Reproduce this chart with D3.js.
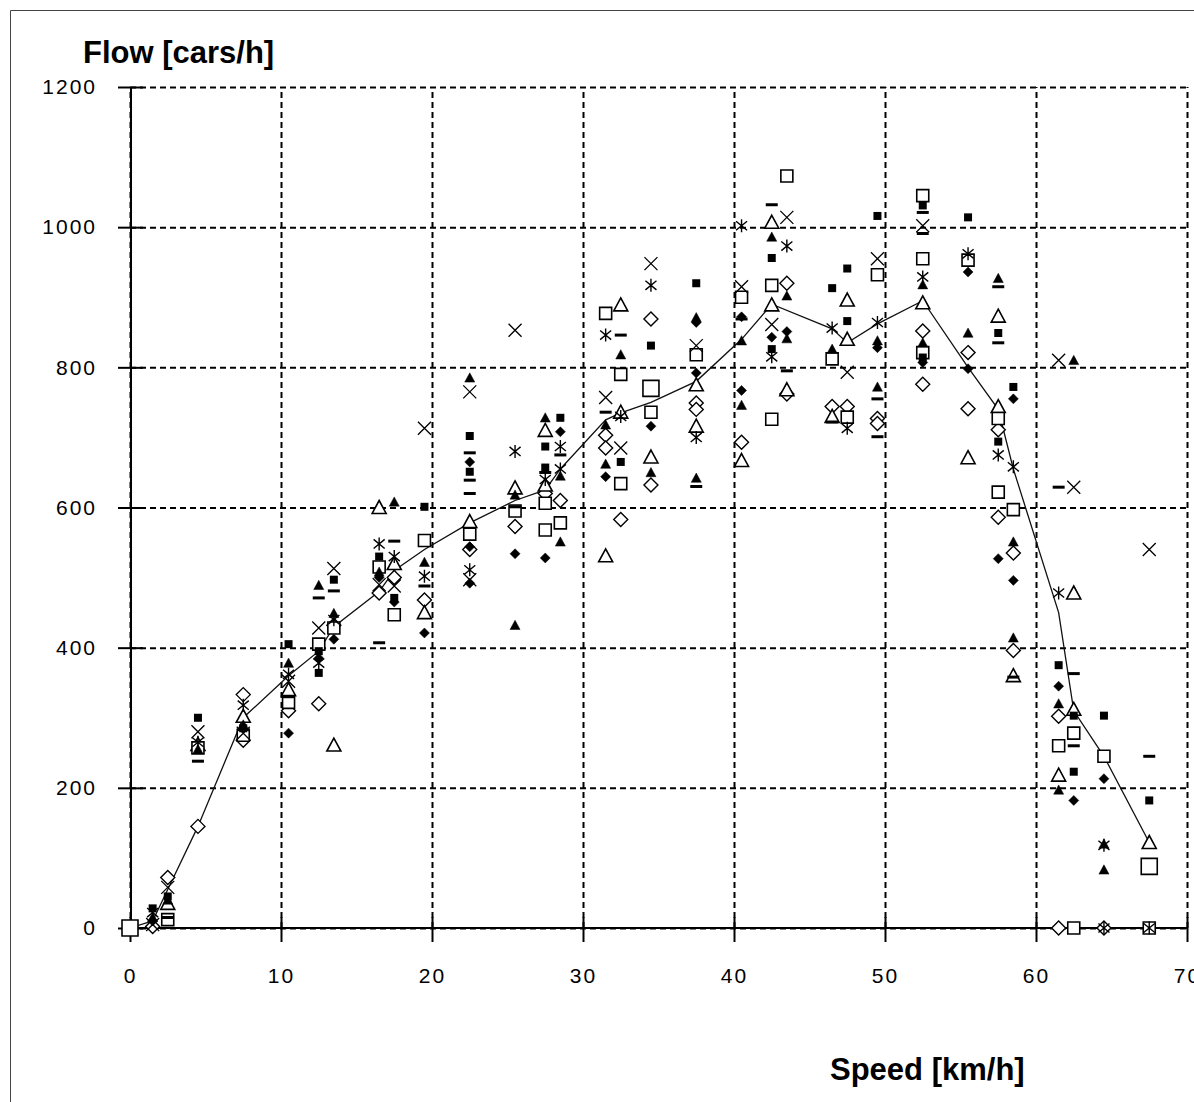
<!DOCTYPE html>
<html>
<head>
<meta charset="utf-8">
<script src="https://cdn.jsdelivr.net/npm/d3@7"></script>
<style>
  body { margin: 0; background: #fff; }
  svg { display: block; }
  .tick text { font-family: "Liberation Sans", Arial, sans-serif; font-size: 21px; letter-spacing: 2px; fill: #000; }
  .title { font-family: "Liberation Sans", Arial, sans-serif; font-weight: bold; font-size: 31px; fill: #000; }
</style>
</head>
<body>
<div id="chart"></div>
<script>
// speed [km/h], flow [cars/h], one array per marker type
const sqOpen = [[2.5,12],[4.5,257],[7.5,275],[10.5,322],[12.5,405],[13.5,428],[16.5,515],[17.5,447],[19.5,553],[22.5,562],[25.5,595],[27.5,606],[27.5,568],[28.5,578],[31.5,877],[32.5,790],[32.5,634],[34.5,736],[37.5,818],[40.5,900],[42.5,917],[42.5,726],[43.5,1073],[46.5,812],[47.5,729],[49.5,932],[52.5,1045],[52.5,955],[52.5,821],[55.5,953],[57.5,727],[57.5,622],[58.5,597],[61.5,260],[62.5,278],[62.5,0],[64.5,245],[67.5,0]];
const sqFill = [[1.5,28],[2.5,45],[4.5,300],[7.5,285],[10.5,405],[12.5,395],[12.5,364],[13.5,497],[16.5,530],[17.5,471],[19.5,601],[22.5,702],[22.5,651],[27.5,687],[27.5,657],[28.5,728],[32.5,665],[34.5,831],[37.5,920],[42.5,956],[42.5,826],[46.5,913],[47.5,941],[47.5,866],[49.5,1016],[52.5,1031],[52.5,814],[55.5,1014],[57.5,849],[57.5,694],[58.5,772],[61.5,375],[62.5,303],[62.5,223],[64.5,303],[67.5,182]];
const crossX = [[1.5,5],[2.5,58],[4.5,280],[7.5,278],[10.5,352],[12.5,428],[13.5,513],[16.5,490],[17.5,488],[19.5,713],[22.5,765],[22.5,497],[25.5,853],[31.5,757],[32.5,685],[34.5,948],[37.5,831],[40.5,915],[42.5,861],[43.5,1014],[47.5,793],[49.5,955],[52.5,1002],[61.5,810],[62.5,629],[67.5,540]];
const stars = [[1.5,22],[4.5,265],[7.5,318],[10.5,362],[12.5,378],[13.5,440],[16.5,548],[17.5,530],[19.5,502],[22.5,511],[25.5,680],[27.5,640],[28.5,687],[28.5,655],[31.5,846],[32.5,730],[34.5,917],[37.5,700],[40.5,1002],[42.5,815],[43.5,973],[46.5,856],[47.5,713],[49.5,864],[52.5,929],[55.5,962],[57.5,675],[58.5,658],[61.5,478],[64.5,118],[64.5,0],[67.5,0]];
const triFill = [[1.5,15],[2.5,40],[4.5,255],[7.5,290],[10.5,378],[12.5,489],[13.5,449],[16.5,508],[17.5,608],[19.5,522],[22.5,785],[25.5,618],[25.5,432],[27.5,728],[28.5,645],[28.5,551],[31.5,718],[31.5,662],[32.5,818],[34.5,650],[37.5,871],[37.5,642],[40.5,838],[40.5,746],[42.5,986],[43.5,902],[43.5,841],[46.5,826],[49.5,838],[49.5,772],[52.5,918],[52.5,835],[55.5,849],[57.5,927],[58.5,551],[58.5,414],[61.5,320],[61.5,197],[62.5,810],[64.5,120],[64.5,83]];
const triOpen = [[2.5,35],[4.5,262],[7.5,302],[10.5,340],[13.5,261],[16.5,600],[17.5,520],[19.5,450],[22.5,580],[25.5,628],[27.5,710],[27.5,632],[31.5,531],[32.5,889],[32.5,736],[34.5,672],[37.5,775],[37.5,716],[40.5,667],[42.5,1007],[42.5,889],[43.5,768],[46.5,730],[47.5,896],[47.5,840],[52.5,892],[55.5,671],[57.5,873],[57.5,744],[58.5,360],[61.5,218],[62.5,478],[62.5,312],[67.5,122]];
const diaOpen = [[1.5,2],[2.5,72],[4.5,145],[7.5,333],[7.5,268],[10.5,310],[12.5,320],[13.5,432],[16.5,478],[17.5,500],[19.5,468],[22.5,540],[25.5,573],[27.5,620],[28.5,610],[31.5,703],[31.5,685],[32.5,583],[34.5,869],[34.5,632],[37.5,749],[37.5,740],[40.5,693],[43.5,920],[43.5,762],[46.5,744],[47.5,744],[49.5,727],[49.5,720],[52.5,852],[52.5,776],[55.5,821],[55.5,741],[57.5,711],[57.5,586],[58.5,535],[58.5,396],[61.5,302],[61.5,0],[64.5,0]];
const diaFill = [[1.5,10],[10.5,278],[12.5,385],[13.5,412],[16.5,500],[17.5,465],[19.5,421],[22.5,665],[22.5,544],[22.5,492],[25.5,534],[27.5,528],[28.5,708],[31.5,644],[34.5,716],[37.5,864],[37.5,792],[40.5,872],[40.5,767],[42.5,843],[43.5,851],[49.5,828],[52.5,807],[55.5,936],[55.5,798],[57.5,527],[58.5,755],[58.5,496],[61.5,345],[62.5,182],[64.5,213]];
const dashes = [[2.5,15],[4.5,238],[7.5,283],[10.5,330],[12.5,471],[13.5,481],[16.5,407],[17.5,552],[19.5,488],[22.5,678],[22.5,639],[22.5,620],[25.5,601],[27.5,650],[28.5,675],[31.5,736],[32.5,846],[37.5,630],[40.5,869],[42.5,1032],[43.5,795],[46.5,722],[49.5,755],[49.5,701],[52.5,1021],[52.5,991],[57.5,915],[57.5,835],[58.5,358],[61.5,629],[62.5,363],[62.5,260],[67.5,245]];
const bigSquares = [[0,0],[34.5,770],[67.5,88]];

// mean curve
const meanSpeed = [0,1.5,2.5,4.5,7.5,10.5,12.5,13.5,16.5,17.5,19.5,22.5,25.5,27.5,28.5,31.5,32.5,34.5,37.5,40.5,42.5,46.5,47.5,49.5,52.5,55.5,57.5,58.5,61.5,62.5,64.5,67.5];
const meanFlow  = [0,10,55,145,300,360,395,430,480,510,540,578,610,625,655,725,735,750,780,840,890,855,835,862,895,800,740,655,450,310,245,122];

const xTicks = [0,10,20,30,40,50,60,70];
const yTicks = [0,200,400,600,800,1000,1200];

const svgWidth = 1194;
const svgHeight = 1102;

let svg = d3.select("#chart")
    .append("svg")
    .attr("width", svgWidth)
    .attr("height", svgHeight);

// frame (left and top edges only)
svg.append("path")
    .attr("d", "M10.5,1102V10.5H1194")
    .attr("fill", "none")
    .attr("stroke", "#444")
    .attr("stroke-width", 1);

let x = d3.scaleLinear().domain([0, 70]).range([130, 1187]);
let y = d3.scaleLinear().domain([0, 1200]).range([928, 87]);

// dashed grid
svg.append("g")
    .attr("transform", "translate(130,0)")
    .call(d3.axisLeft(y).tickValues(yTicks).tickSize(-(1187 - 130)).tickFormat(""))
    .call(g => g.select(".domain").remove())
    .selectAll("line")
    .attr("stroke", "#000")
    .attr("stroke-width", 2)
    .attr("stroke-dasharray", "6,4");

svg.append("g")
    .attr("transform", "translate(0,928)")
    .call(d3.axisBottom(x).tickValues(xTicks).tickSize(-(928 - 87)).tickFormat(""))
    .call(g => g.select(".domain").remove())
    .selectAll("line")
    .attr("stroke", "#000")
    .attr("stroke-width", 2)
    .attr("stroke-dasharray", "6,4");

// y axis
let yAxis = svg.append("g")
    .attr("transform", "translate(131,0)")
    .call(d3.axisLeft(y).tickValues(yTicks).tickFormat(d3.format("d")).tickSize(13).tickPadding(21));
yAxis.select(".domain").attr("d", `M0,${y(1200)}V${y(0)}`).attr("stroke-width", 2);
yAxis.selectAll(".tick line").attr("x1", 12).attr("stroke-width", 2);

// x axis
let xAxis = svg.append("g")
    .attr("transform", "translate(0,928)")
    .call(d3.axisBottom(x).tickValues(xTicks).tickFormat(d3.format("d")).tickSize(14).tickPadding(26));
xAxis.select(".domain").attr("d", `M${x(0)},0H${x(70)}`).attr("stroke-width", 2);
xAxis.selectAll(".tick line").attr("y1", -11).attr("stroke-width", 2);

// axis titles
svg.append("text").attr("class", "title").attr("x", 83).attr("y", 63).text("Flow [cars/h]");
svg.append("text").attr("class", "title").attr("x", 830).attr("y", 1080).text("Speed [km/h]");

// mean line
svg.append("path")
    .datum(d3.zip(meanSpeed, meanFlow))
    .attr("fill", "none")
    .attr("stroke", "#111")
    .attr("stroke-width", 1.3)
    .attr("d", d3.line().x(d => x(d[0])).y(d => y(d[1])));

// custom marker shapes, size = half width
const shapeSquare = { draw(c, r) { c.rect(-r, -r, 2 * r, 2 * r); } };
const shapeX = { draw(c, r) { c.moveTo(-r, -r); c.lineTo(r, r); c.moveTo(-r, r); c.lineTo(r, -r); } };
const shapeStar = { draw(c, r) {
    c.moveTo(0, -r); c.lineTo(0, r);
    c.moveTo(-r * 0.85, -r * 0.7); c.lineTo(r * 0.85, r * 0.7);
    c.moveTo(-r * 0.85, r * 0.7); c.lineTo(r * 0.85, -r * 0.7);
} };
const shapeTri = { draw(c, r) { c.moveTo(0, -r); c.lineTo(r, r * 0.85); c.lineTo(-r, r * 0.85); c.closePath(); } };
const shapeDia = { draw(c, r) { c.moveTo(0, -r); c.lineTo(r, 0); c.lineTo(0, r); c.lineTo(-r, 0); c.closePath(); } };
const shapeDash = { draw(c, r) { c.rect(-r, -1.5, 2 * r, 3); } };

function drawMarkers(data, type, size, fill, stroke, width) {
    svg.append("g")
        .selectAll("path")
        .data(data)
        .enter()
        .append("path")
        .attr("transform", d => `translate(${x(d[0])},${y(d[1])})`)
        .attr("d", d3.symbol().type(type).size(size))
        .attr("fill", fill)
        .attr("stroke", stroke)
        .attr("stroke-width", width);
}

drawMarkers(diaOpen, shapeDia, 7, "#fff", "#000", 1.4);
drawMarkers(triOpen, shapeTri, 7, "#fff", "#000", 1.6);
drawMarkers(sqOpen, shapeSquare, 6, "#fff", "#000", 1.6);
drawMarkers(bigSquares, shapeSquare, 8, "#fff", "#000", 1.6);
drawMarkers(crossX, shapeX, 6.5, "none", "#000", 1.3);
drawMarkers(stars, shapeStar, 6.5, "none", "#000", 1.4);
drawMarkers(triFill, shapeTri, 5, "#000", "#000", 0.5);
drawMarkers(sqFill, shapeSquare, 4, "#000", "none", 0);
drawMarkers(diaFill, shapeDia, 5, "#000", "#000", 0.5);
drawMarkers(dashes, shapeDash, 6, "#000", "none", 0);
</script>
</body>
</html>
